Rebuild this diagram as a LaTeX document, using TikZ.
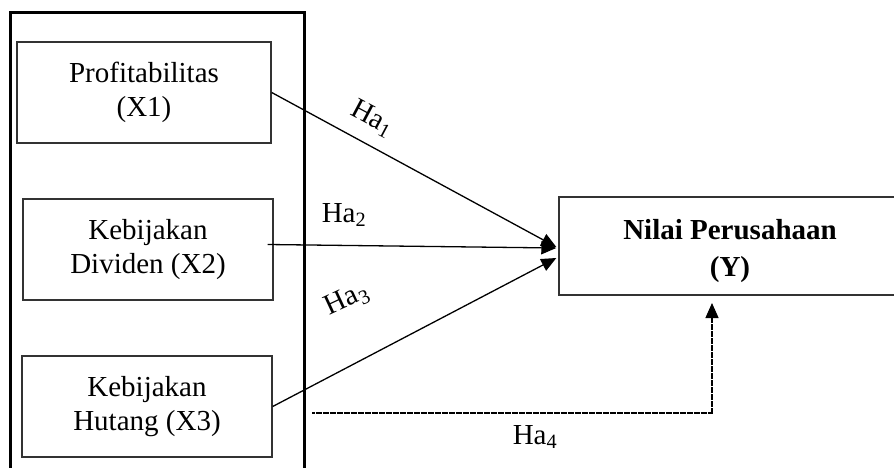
\documentclass[tikz,border=0pt]{standalone}
\usepackage{fontspec}
\setmainfont{Liberation Serif}
\usetikzlibrary{arrows.meta,calc}
\begin{document}
\begin{tikzpicture}[x=1pt,y=-1pt,
  varbox/.style={draw=black!80,line width=1.4pt,align=center,inner sep=0pt,
    font=\fontsize{29}{34}\selectfont},
  conn/.style={line width=1.3pt,-{Triangle[length=15pt,width=13pt]}},
  lbl/.style={font=\fontsize{29}{34}\selectfont,inner sep=0pt}]
\useasboundingbox (0,0) rectangle (894,468);
\begin{scope}
\clip (0,0) rectangle (894,468);
\draw[line width=3pt] (10,480) -- (10,13) -- (304,13) -- (304,480);
\node[varbox,minimum width=254pt,minimum height=101pt] (x1) at (144,92.5) {Profitabilitas\\(X1)};
\node[varbox,minimum width=250pt,minimum height=101pt] (x2) at (148,249.5) {Kebijakan\\Dividen (X2)};
\node[varbox,minimum width=250pt,minimum height=101pt] (x3) at (147,406.5) {Kebijakan\\Hutang (X3)};
\node[varbox,minimum width=342pt,minimum height=98pt] (y) at (730,246) {};
\node[align=center,inner sep=0pt,font=\fontsize{29}{37}\selectfont\bfseries] (ytext) at (730,251) {Nilai Perusahaan\\(Y)};
\coordinate (t1) at ($(y.west)+(-2,1)$);
\coordinate (t2) at ($(y.west)+(-2,2)$);
\coordinate (t3) at ($(y.west)+(-2,12)$);
\coordinate (s4) at (312,413);
\coordinate (c4) at (712,413);
\coordinate (t4) at (712,303);
\draw[conn] (x1.east) -- (t1);
\draw[conn] ($(x2.east)+(-6,-5)$) -- (t2);
\draw[conn] (x3.east) -- (t3);
\draw[conn,dash pattern=on 3pt off 0.5pt] (s4) -- (c4) -- (t4);
\node[lbl,rotate=-28] (h1) at (372,119) {Ha\textsubscript{1}};
\node[lbl] (h2) at (344,215) {Ha\textsubscript{2}};
\node[lbl,rotate=25] (h3) at (347,300) {Ha\textsubscript{3}};
\node[lbl] (h4) at (535,437) {Ha\textsubscript{4}};
\end{scope}
\end{tikzpicture}
\end{document}
